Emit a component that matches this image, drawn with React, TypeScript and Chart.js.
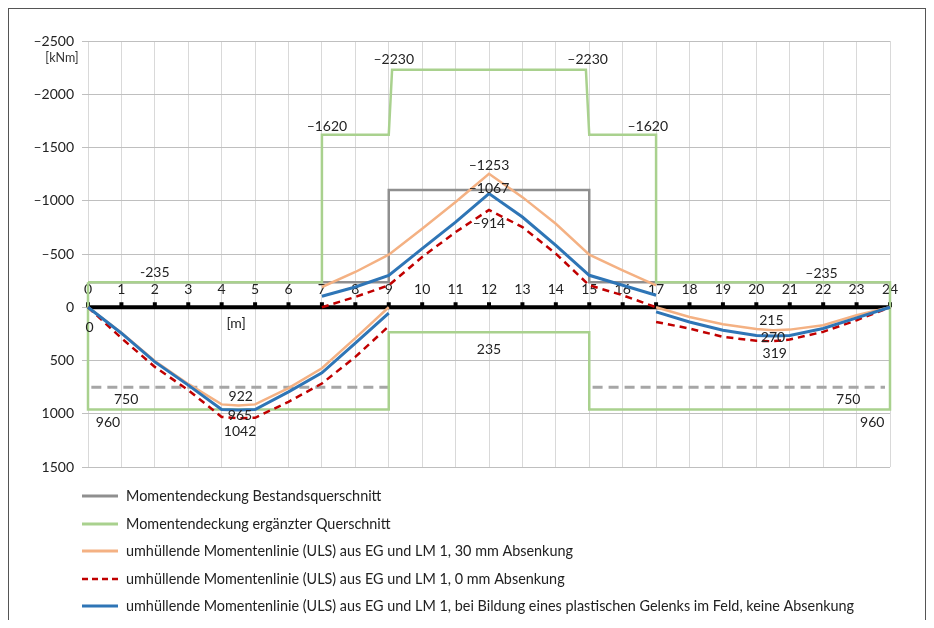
import { useEffect, useRef } from "react";
import { Chart, registerables } from "chart.js";

Chart.register(...registerables);

const FONT = "Lato, 'Open Sans', sans-serif";

// x positions in metres
const X_TICKS = [0, 1, 2, 3, 4, 5, 6, 7, 8, 9, 10, 11, 12, 13, 14, 15, 16, 17, 18, 19, 20, 21, 22, 23, 24];

// Field 1 (sagging)
const FIELD1_X = [0, 1, 2, 3, 4, 4.5, 5, 6, 7, 8, 9];
const FIELD1_ORANGE = [0, 240, 505, 720, 912, 922, 912, 760, 573, 290, 0];
const FIELD1_RED = [0, 290, 560, 778, 1030, 1042, 1038, 888, 716, 466, 178];
const FIELD1_BLUE = [0, 244, 513, 731, 960, 965, 960, 794, 616, 338, 56];

// Support region (hogging)
const SUPPORT_X = [7, 8, 9, 10, 11, 12, 13, 14, 15, 16, 17];
const SUPPORT_ORANGE = [-190, -331, -494, -738, -988, -1253, -1034, -784, -494, -347, -206];
const SUPPORT_RED = [0, -97, -206, -472, -706, -914, -753, -503, -206, -113, 0];
const SUPPORT_BLUE = [-103, -190, -300, -550, -800, -1067, -847, -581, -300, -206, -113];

// Field 3 (sagging)
const FIELD3_X = [17, 18, 19, 20, 20.5, 21, 22, 23, 24];
const FIELD3_ORANGE = [0, 91, 159, 205, 215, 210, 169, 75, 0];
const FIELD3_RED = [138, 200, 278, 315, 319, 303, 231, 122, 0];
const FIELD3_BLUE = [44, 138, 216, 265, 270, 265, 200, 100, 0];

// Moment capacity, existing cross-section
const GRAY_X = [0, 9, 9, 15, 15, 24];
const GRAY_Y = [-235, -235, -1100, -1100, -235, -235];
const GRAY_POS_X1 = [0.1, 9];
const GRAY_POS_X2 = [15.1, 23.85];
const GRAY_POS_Y = [750, 750];

// Moment capacity, strengthened cross-section
const GREEN_X = [0, 7, 7, 9, 9.1, 14.9, 15, 17, 17, 24, 24, 15, 15, 9, 9, 0, 0];
const GREEN_Y = [-235, -235, -1620, -1620, -2230, -2230, -1620, -1620, -235, -235, 960, 960, 235, 235, 960, 960, -235];

const LABELS = [
  "Momentendeckung Bestandsquerschnitt",
  "Momentendeckung ergänzter Querschnitt",
  "umhüllende Momentenlinie (ULS) aus EG und LM 1, 30 mm Absenkung",
  "umhüllende Momentenlinie (ULS) aus EG und LM 1, 0 mm Absenkung",
  "umhüllende Momentenlinie (ULS) aus EG und LM 1, bei Bildung eines plastischen Gelenks im Feld, keine Absenkung",
];

// value annotations: text, x (m), y (kNm)
const ANNOTATIONS: [string, number, number][] = [
  ["–2230", 9.15, -2330],
  ["–2230", 14.95, -2330],
  ["–1620", 7.15, -1700],
  ["–1620", 16.75, -1700],
  ["–1253", 12, -1330],
  ["–1067", 12, -1119],
  ["–914", 12, -790],
  ["-235", 2.0, -331],
  ["–235", 21.95, -316],
  ["0", 0.05, 188],
  ["750", 1.14, 863],
  ["960", 0.6, 1085],
  ["922", 4.57, 841],
  ["965", 4.55, 1013],
  ["1042", 4.55, 1170],
  ["235", 12, 394],
  ["215", 20.45, 128],
  ["270", 20.5, 285],
  ["319", 20.55, 434],
  ["750", 22.75, 866],
  ["960", 23.47, 1085],
  ["[m]", 4.43, 153],
];

const COLORS = {
  gray: "#8f8f8f",
  grayDash: "#a6a6a6",
  green: "#a9d18e",
  orange: "#f4b183",
  red: "#c00000",
  blue: "#2e75b6",
};

type P = { x: number; y: number | null };
const pts = (xs: number[], ys: number[]): P[] => xs.map((x, i) => ({ x, y: ys[i] }));
const joinSegs = (...segs: P[][]): P[] => {
  const out: P[] = [];
  segs.forEach((s, i) => {
    if (i > 0) out.push({ x: s[0].x, y: null });
    out.push(...s);
  });
  return out;
};

const LEGEND = [
  { label: LABELS[0], color: COLORS.gray, width: 3, dash: [] as number[] },
  { label: LABELS[1], color: COLORS.green, width: 3, dash: [] as number[] },
  { label: LABELS[2], color: COLORS.orange, width: 3, dash: [] as number[] },
  { label: LABELS[3], color: COLORS.red, width: 2.5, dash: [6, 4] },
  { label: LABELS[4], color: COLORS.blue, width: 3, dash: [] as number[] },
];

const overlayPlugin = {
  id: "overlay",
  beforeDatasetsDraw(chart: any) {
    const { ctx, scales } = chart;
    const x = scales.x;
    const y = scales.y;
    const y0 = y.getPixelForValue(0);
    ctx.save();
    ctx.strokeStyle = "#000";
    ctx.lineWidth = 4;
    ctx.beginPath();
    ctx.moveTo(x.getPixelForValue(X_TICKS[0]), y0);
    ctx.lineTo(x.getPixelForValue(X_TICKS[X_TICKS.length - 1]), y0);
    ctx.stroke();
    ctx.font = `14px ${FONT}`;
    ctx.textAlign = "center";
    ctx.textBaseline = "middle";
    for (const t of X_TICKS) {
      const px = x.getPixelForValue(t);
      ctx.fillStyle = "#000";
      ctx.fillRect(px - 2, y0 - 5, 4, 5);
      ctx.fillStyle = "#222";
      ctx.fillText(String(t), px, y0 - 18);
    }
    ctx.restore();
  },
  afterDatasetsDraw(chart: any) {
    const { ctx, scales } = chart;
    ctx.save();
    ctx.font = `14px ${FONT}`;
    ctx.fillStyle = "#222";
    ctx.textAlign = "center";
    ctx.textBaseline = "middle";
    for (const [t, vx, vy] of ANNOTATIONS) {
      ctx.fillText(t, scales.x.getPixelForValue(vx), scales.y.getPixelForValue(vy));
    }
    ctx.restore();
  },
  afterDraw(chart: any) {
    const { ctx } = chart;
    ctx.save();
    ctx.font = `12.5px ${FONT}`;
    ctx.fillStyle = "#333";
    ctx.textAlign = "center";
    ctx.textBaseline = "middle";
    ctx.fillText("[kNm]", 53, 49);
    const rows = [487, 515, 542, 570, 597];
    LEGEND.forEach((it, i) => {
      const ry = rows[i];
      ctx.strokeStyle = it.color;
      ctx.lineWidth = it.width;
      ctx.setLineDash(it.dash);
      ctx.beginPath();
      ctx.moveTo(73, ry);
      ctx.lineTo(109, ry);
      ctx.stroke();
      ctx.setLineDash([]);
      ctx.font = `14.4px ${FONT}`;
      ctx.fillStyle = "#222";
      ctx.textAlign = "left";
      ctx.textBaseline = "middle";
      ctx.fillText(it.label, 117, ry);
    });
    ctx.restore();
  },
};

export default function App() {
  const ref = useRef<HTMLCanvasElement | null>(null);

  useEffect(() => {
    if (!ref.current) return;
    Chart.defaults.font.family = FONT;
    Chart.defaults.color = "#222";

    const common = { showLine: true, pointRadius: 0, pointHoverRadius: 0, tension: 0, clip: false as any, spanGaps: false, fill: false };

    const chart = new Chart(ref.current, {
      type: "scatter",
      data: {
        datasets: [
          {
            ...common,
            label: LABELS[4],
            data: joinSegs(pts(FIELD1_X, FIELD1_BLUE), pts(SUPPORT_X, SUPPORT_BLUE), pts(FIELD3_X, FIELD3_BLUE)),
            borderColor: COLORS.blue,
            borderWidth: 3,
            order: 0,
          },
          {
            ...common,
            label: LABELS[3],
            data: joinSegs(pts(FIELD1_X, FIELD1_RED), pts(SUPPORT_X, SUPPORT_RED), pts(FIELD3_X, FIELD3_RED)),
            borderColor: COLORS.red,
            borderWidth: 2.5,
            borderDash: [7, 5],
            order: 1,
          },
          {
            ...common,
            label: LABELS[2],
            data: joinSegs(pts(FIELD1_X, FIELD1_ORANGE), pts(SUPPORT_X, SUPPORT_ORANGE), pts(FIELD3_X, FIELD3_ORANGE)),
            borderColor: COLORS.orange,
            borderWidth: 2.5,
            order: 2,
          },
          {
            ...common,
            label: LABELS[1],
            data: pts(GREEN_X, GREEN_Y),
            borderColor: COLORS.green,
            borderWidth: 2.5,
            order: 3,
          },
          {
            ...common,
            label: LABELS[0],
            data: pts(GRAY_X, GRAY_Y),
            borderColor: COLORS.gray,
            borderWidth: 2.5,
            order: 4,
          },
          {
            ...common,
            label: LABELS[0] + " (positiv)",
            data: joinSegs(pts(GRAY_POS_X1, GRAY_POS_Y), pts(GRAY_POS_X2, GRAY_POS_Y)),
            borderColor: COLORS.grayDash,
            borderWidth: 3,
            borderDash: [10, 6],
            order: 5,
          },
        ],
      },
      options: {
        animation: false,
        responsive: false,
        events: [],
        layout: { padding: { top: 32, right: 35, bottom: 153, left: 0 } },
        plugins: {
          legend: { display: false },
          tooltip: { enabled: false },
        },
        scales: {
          x: {
            type: "linear",
            min: 0,
            max: 24,
            ticks: { display: false, stepSize: 1 },
            grid: { color: "#d9d9d9", lineWidth: 1, drawTicks: false },
            border: { display: false },
            afterFit: (s: any) => {
              s.height = 0;
            },
          },
          y: {
            type: "linear",
            min: -2500,
            max: 1500,
            reverse: true,
            ticks: {
              stepSize: 500,
              padding: 8,
              color: "#222",
              font: { size: 14, family: FONT },
              callback: (v: any) => (Number(v) < 0 ? "–" + Math.abs(Number(v)) : String(v)),
            },
            grid: { color: "#bfbfbf", lineWidth: 1, tickLength: 6 },
            border: { display: false },
            afterFit: (s: any) => {
              s.width = 79;
            },
          },
        },
      },
      plugins: [overlayPlugin],
    });
    return () => chart.destroy();
  }, []);

  return (
    <div
      style={{
        width: 918,
        height: 612,
        boxSizing: "border-box",
        border: "1px solid #555",
        borderBottom: "none",
        background: "#fff",
      }}
    >
      <canvas ref={ref} width={916} height={611} style={{ display: "block" }} />
    </div>
  );
}
